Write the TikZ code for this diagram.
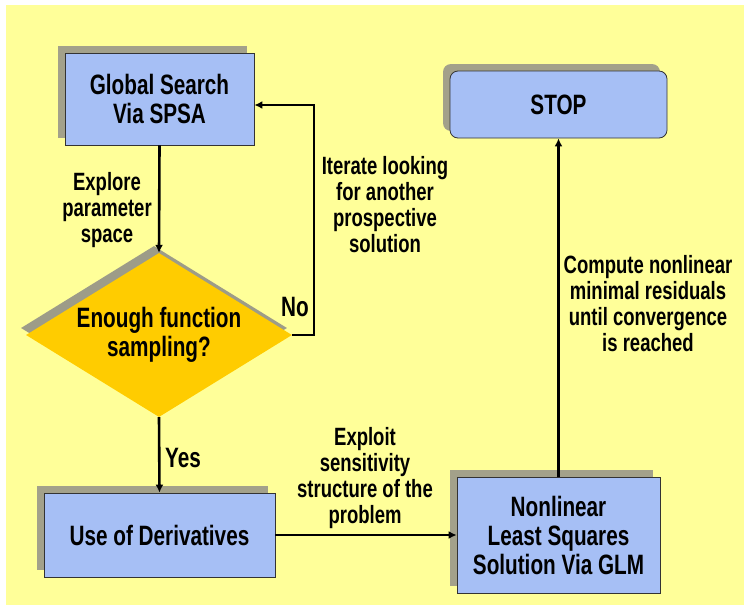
\documentclass[tikz,border=0pt]{standalone}
\usepackage{fontspec}
\setmainfont{Liberation Sans}[FakeStretch=0.74]
\usetikzlibrary{shapes.geometric,shadows,arrows.meta}
\definecolor{bgyellow}{HTML}{FFFF99}
\definecolor{boxblue}{HTML}{A6BFF5}
\definecolor{shadowc}{HTML}{A3A18A}
\definecolor{diagold}{HTML}{FFCC00}
\definecolor{diashadow}{HTML}{9D9C88}
\begin{document}
\begin{tikzpicture}[x=1pt,y=-1pt,
  box/.style={draw=black!80,line width=0.8pt,fill=boxblue,align=center,inner sep=0pt,
    font=\fontsize{28}{29}\selectfont\bfseries,
    drop shadow={shadow xshift=-7pt,shadow yshift=7pt,fill=shadowc,opacity=1}},
  decision/.style={diamond,fill=diagold,align=center,inner sep=0pt,aspect=1.62,
    font=\fontsize{28}{29}\selectfont\bfseries,
    drop shadow={shadow xshift=-5pt,shadow yshift=7pt,fill=diashadow,opacity=1}},
  lbl/.style={align=center,inner sep=0pt,font=\fontsize{25}{26}\selectfont\bfseries},
  biglbl/.style={align=center,inner sep=0pt,font=\fontsize{28}{29}\selectfont\bfseries},
  arr/.style={line width=2.6pt,-{Latex[length=8pt,width=8pt]}}]
\useasboundingbox (0,0) rectangle (746,605);
\fill[white] (0,0) rectangle (746,605);
\fill[bgyellow] (6,5) rectangle (744,605);

\node[box,minimum width=189pt,minimum height=92pt] (gs) at (159.5,99) {Global Search\\Via SPSA};
\node[decision,minimum width=266pt,minimum height=164pt] (dec) at (159,335) {Enough function\\sampling?};
\node[box,minimum width=231pt,minimum height=84pt] (use) at (159.5,535) {Use of Derivatives};
\node[box,minimum width=203pt,minimum height=116pt] (nls) at (558.5,535) {Nonlinear\\Least Squares\\Solution Via GLM};
\node[box,rounded corners=8pt,minimum width=217pt,minimum height=67pt] (stop) at (558.5,104.5) {STOP};

\node[lbl] (explore) at (107,210) {Explore\\parameter\\space};
\node[lbl] (iterate) at (385,205) {Iterate looking\\for another\\prospective\\solution};
\node[biglbl] (no) at (295,307) {No};
\node[biglbl] (yes) at (183,458) {Yes};
\node[lbl] (exploit) at (365,478) {Exploit\\sensitivity\\structure of the\\problem};
\node[lbl] (compute) at (648,304) {Compute nonlinear\\minimal residuals\\until convergence\\is reached};

\draw[arr] (gs.south) -- (dec.north);
\coordinate (turn) at (314,335);
\draw[arr] (dec.east) -- (turn) |- ([yshift=-6pt]gs.east);
\draw[arr] (dec.south) -- (use.north);
\draw[arr] (use.east) -- (nls.west);
\draw[arr] (nls.north) -- (stop.south);
\end{tikzpicture}
\end{document}
